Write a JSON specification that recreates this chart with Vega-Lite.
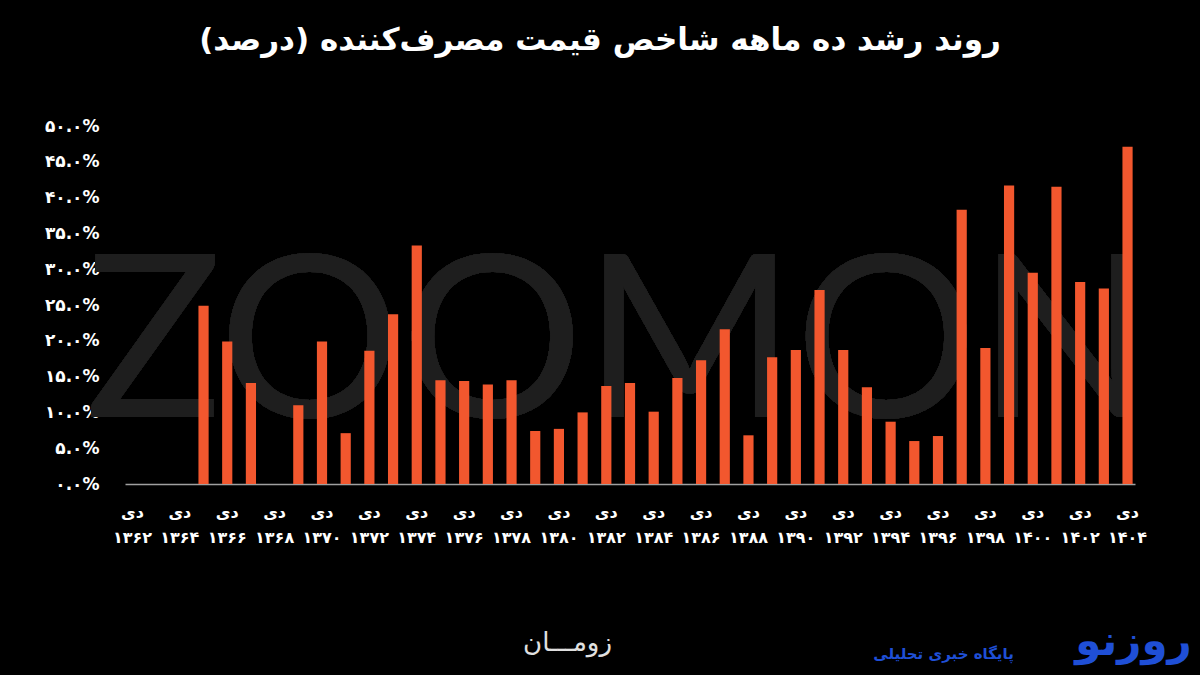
{
  "$schema": "https://vega.github.io/schema/vega-lite/v6.json",
  "autosize": {"type": "none"},
  "width": 1010,
  "height": 358,
  "padding": {"left": 125, "top": 126, "right": 65, "bottom": 191},
  "background": "#000000",
  "title": {
    "text": "روند رشد ده ماهه شاخص قیمت مصرف‌کننده (درصد)",
    "font": "DejaVu Sans",
    "fontSize": 31,
    "fontWeight": "bold",
    "color": "#ffffff",
    "anchor": "middle",
    "offset": 60,
    "dx": -30
  },
  "config": {
    "view": {"stroke": null},
    "font": "DejaVu Sans",
    "axis": {"labelFont": "DejaVu Sans", "titleFont": "DejaVu Sans"},
    "axisX": {"labelAlign": "center", "bandPosition": 0.5}
  },
  "resolve": {"scale": {"y": "independent"}, "axis": {"y": "independent"}},
  "data": {
    "values": [
      {"year": 1365, "value": 24.9},
      {"year": 1366, "value": 19.9},
      {"year": 1367, "value": 14.1},
      {"year": 1369, "value": 11.0},
      {"year": 1370, "value": 19.9},
      {"year": 1371, "value": 7.1},
      {"year": 1372, "value": 18.6},
      {"year": 1373, "value": 23.7},
      {"year": 1374, "value": 33.3},
      {"year": 1375, "value": 14.5},
      {"year": 1376, "value": 14.4},
      {"year": 1377, "value": 13.9},
      {"year": 1378, "value": 14.5},
      {"year": 1379, "value": 7.4},
      {"year": 1380, "value": 7.7},
      {"year": 1381, "value": 10.0},
      {"year": 1382, "value": 13.7},
      {"year": 1383, "value": 14.1},
      {"year": 1384, "value": 10.1},
      {"year": 1385, "value": 14.8},
      {"year": 1386, "value": 17.3},
      {"year": 1387, "value": 21.6},
      {"year": 1388, "value": 6.8},
      {"year": 1389, "value": 17.7},
      {"year": 1390, "value": 18.7},
      {"year": 1391, "value": 27.1},
      {"year": 1392, "value": 18.7},
      {"year": 1393, "value": 13.5},
      {"year": 1394, "value": 8.7},
      {"year": 1395, "value": 6.0},
      {"year": 1396, "value": 6.7},
      {"year": 1397, "value": 38.3},
      {"year": 1398, "value": 19.0},
      {"year": 1399, "value": 41.7},
      {"year": 1400, "value": 29.5},
      {"year": 1401, "value": 41.5},
      {"year": 1402, "value": 28.2},
      {"year": 1403, "value": 27.3},
      {"year": 1404, "value": 47.1}
    ]
  },
  "layer": [
    {
      "mark": {
        "type": "text",
        "font": "Lato",
        "fontWeight": "normal",
        "fontSize": 228,
        "fill": "#1e1e1e",
        "baseline": "middle",
        "align": "center",
        "dx": 12
      },
      "encoding": {
        "x": {"datum": 1382, "type": "ordinal"},
        "y": {
          "datum": 18.8,
          "type": "quantitative",
          "scale": {"domain": [0, 50], "nice": false},
          "axis": {
            "orient": "right",
            "labels": false,
            "ticks": false,
            "domain": false,
            "grid": false,
            "title": "روزنو",
            "titleAngle": 0,
            "titleX": -2,
            "titleY": 528,
            "titleAlign": "center",
            "titleBaseline": "alphabetic",
            "titleColor": "#1f4fd6",
            "titleFontSize": 42,
            "titleFontWeight": "bold"
          }
        },
        "text": {"value": "ZOOMON"}
      }
    },
    {
      "mark": {"type": "bar", "color": "#F2572E"},
      "encoding": {
        "x": {
          "field": "year",
          "type": "ordinal",
          "scale": {
            "domain": [1362,1363,1364,1365,1366,1367,1368,1369,1370,1371,1372,1373,1374,1375,1376,1377,1378,1379,1380,1381,1382,1383,1384,1385,1386,1387,1388,1389,1390,1391,1392,1393,1394,1395,1396,1397,1398,1399,1400,1401,1402,1403,1404],
            "paddingInner": 0.57,
            "paddingOuter": 0.1
          },
          "axis": {
            "title": "زومـــان",
            "titleX": 442,
            "titleY": 166,
            "titleAlign": "center",
            "titleBaseline": "alphabetic",
            "titleColor": "#e0e0e0",
            "titleFontSize": 26,
            "titleFontWeight": "normal",
            "labelAngle": 0,
            "labelAlign": "center",
            "labelColor": "#ffffff",
            "labelFontSize": 16,
            "labelFontWeight": "bold",
            "labelPadding": 20,
            "labelLineHeight": 25,
            "labelBaseline": "top",
            "ticks": false,
            "domainColor": "#a0a0a0",
            "domainWidth": 1.5,
            "grid": false,
            "labelOverlap": false,
            "labelExpr": "datum.value % 2 == 0 ? ['دی', replace(replace(replace(replace(replace(replace(replace(replace(replace(replace(format(datum.value, 'd'), regexp('0','g'), '۰'), regexp('1','g'), '۱'), regexp('2','g'), '۲'), regexp('3','g'), '۳'), regexp('4','g'), '۴'), regexp('5','g'), '۵'), regexp('6','g'), '۶'), regexp('7','g'), '۷'), regexp('8','g'), '۸'), regexp('9','g'), '۹')] : ''"
          }
        },
        "y": {
          "field": "value",
          "type": "quantitative",
          "scale": {"domain": [0, 50], "nice": false},
          "axis": {
            "orient": "left",
            "values": [0, 5, 10, 15, 20, 25, 30, 35, 40, 45, 50],
            "title": "پایگاه خبری تحلیلی",
            "titleAngle": 0,
            "titleX": 818,
            "titleY": 532,
            "titleAlign": "center",
            "titleBaseline": "alphabetic",
            "titleColor": "#1f4fd6",
            "titleFontSize": 15,
            "titleFontWeight": "bold",
            "labelColor": "#ffffff",
            "labelFontSize": 17,
            "labelFontWeight": "bold",
            "labelPadding": 26,
            "labelOverlap": false,
            "ticks": false,
            "domain": false,
            "gridColor": "#2a2a2a",
            "gridWidth": 1,
            "labelExpr": "replace(replace(replace(replace(replace(replace(replace(replace(replace(replace(format(datum.value, '.1f'), regexp('0','g'), '۰'), regexp('1','g'), '۱'), regexp('2','g'), '۲'), regexp('3','g'), '۳'), regexp('4','g'), '۴'), regexp('5','g'), '۵'), regexp('6','g'), '۶'), regexp('7','g'), '۷'), regexp('8','g'), '۸'), regexp('9','g'), '۹') + '%'"
          }
        }
      }
    }
  ]
}
